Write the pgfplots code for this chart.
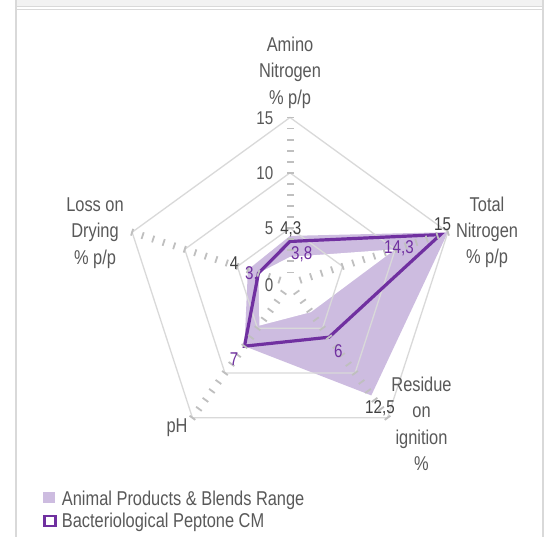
\documentclass[border=0pt]{standalone}
\usepackage{fontspec}
\setmainfont{Liberation Sans}[FakeStretch=0.82]
\usepackage{pgfplots}
\pgfplotsset{compat=1.18}
\usepgfplotslibrary{polar}
\definecolor{pep}{RGB}{112,48,160}
\definecolor{rng}{RGB}{205,188,224}
\definecolor{gridc}{RGB}{217,217,217}
\definecolor{tickc}{RGB}{191,191,191}
\definecolor{txt}{RGB}{89,89,89}
\definecolor{dlab}{RGB}{64,64,64}
\definecolor{framec}{RGB}{217,217,217}
\definecolor{strip}{RGB}{242,242,242}
\newcommand\bigf{\fontsize{20bp}{26.5bp}\selectfont}
\newcommand\smallf{\fontsize{18.5bp}{22bp}\selectfont}
\begin{document}
\begin{tikzpicture}
\path[use as bounding box] (0,0) rectangle (559bp,537bp);
\fill[white] (0,0) rectangle (559bp,537bp);
\fill[strip] (16bp,530bp) rectangle (543bp,537bp);
\draw[framec, line width=1bp] (16bp,530.3bp) -- (543bp,530.3bp);
\draw[framec, line width=1bp] (16bp,527.7bp) -- (543bp,527.7bp);
\draw[framec, line width=1.2bp] (16bp,0) -- (16bp,537bp);
\draw[framec, line width=1.2bp] (543bp,0) -- (543bp,537bp);
\begin{polaraxis}[
  at={(290bp,253.5bp)}, anchor=origin,
  scale only axis, width=332bp, height=332bp,
  xmin=0, xmax=360, ymin=0, ymax=15,
  hide axis, clip=false,
]
% range max (filled) and range min (white)
\addplot[forget plot, fill=rng, draw=none] coordinates {(90,4.3)(18,15)(306,12.5)(234,7)(162,4)} -- cycle;
\addplot[forget plot, fill=white, draw=none] coordinates {(90,2.4)(18,10)(306,3.2)(234,4.7)(162,3)} -- cycle;
% grid
\addplot[forget plot, gridc, line width=1.3bp] coordinates {(90,5)(18,5)(306,5)(234,5)(162,5)} -- cycle;
\addplot[forget plot, gridc, line width=1.3bp] coordinates {(90,10)(18,10)(306,10)(234,10)(162,10)} -- cycle;
\addplot[forget plot, gridc, line width=1.3bp] coordinates {(90,15)(18,15)(306,15)(234,15)(162,15)} -- cycle;
% ticks
\addplot[forget plot, only marks, mark=-, mark size=3.5bp, mark options={tickc, line width=1.8bp, rotate=0}]
 coordinates {(90,1)(90,2)(90,3)(90,4)(90,5)(90,6)(90,7)(90,8)(90,9)(90,10)(90,11)(90,12)(90,13)(90,14)(90,15)};
\addplot[forget plot, only marks, mark=-, mark size=3.5bp, mark options={tickc, line width=1.8bp, rotate=-72}]
 coordinates {(18,1)(18,2)(18,3)(18,4)(18,5)(18,6)(18,7)(18,8)(18,9)(18,10)(18,11)(18,12)(18,13)(18,14)(18,15)};
\addplot[forget plot, only marks, mark=-, mark size=3.5bp, mark options={tickc, line width=1.8bp, rotate=36}]
 coordinates {(306,1)(306,2)(306,3)(306,4)(306,5)(306,6)(306,7)(306,8)(306,9)(306,10)(306,11)(306,12)(306,13)(306,14)(306,15)};
\addplot[forget plot, only marks, mark=-, mark size=3.5bp, mark options={tickc, line width=1.8bp, rotate=-36}]
 coordinates {(234,1)(234,2)(234,3)(234,4)(234,5)(234,6)(234,7)(234,8)(234,9)(234,10)(234,11)(234,12)(234,13)(234,14)(234,15)};
\addplot[forget plot, only marks, mark=-, mark size=3.5bp, mark options={tickc, line width=1.8bp, rotate=72}]
 coordinates {(162,1)(162,2)(162,3)(162,4)(162,5)(162,6)(162,7)(162,8)(162,9)(162,10)(162,11)(162,12)(162,13)(162,14)(162,15)};
% peptone
\addplot[forget plot, pep, line width=3.2bp, line join=miter] coordinates {(90,3.8)(18,14.3)(306,6)(234,7)(162,3)} -- cycle;
\end{polaraxis}
% legend
\fill[rng] (43bp,33.7bp) rectangle (55bp,45.3bp);
\draw[pep, line width=2.5bp] (44.6bp,11bp) rectangle (55.4bp,20.8bp);
\node[anchor=base west, inner sep=0pt, text=txt, font=\bigf] at (61.7bp,32bp) {Animal Products \& Blends Range};
\node[anchor=base west, inner sep=0pt, text=txt, font=\bigf] at (61.7bp,9.7bp) {Bacteriological Peptone CM};
% axis titles
\begin{scope}[every node/.style={anchor=base, inner sep=0pt, text=txt, font=\bigf}]
\node at (290bp,485.5bp) {Amino};
\node at (290bp,459bp) {Nitrogen};
\node at (290bp,432.5bp) {\% p/p};
\node at (487bp,325.5bp) {Total};
\node at (487bp,299bp) {Nitrogen};
\node at (487bp,273bp) {\% p/p};
\node at (421.5bp,145.5bp) {Residue};
\node at (421.5bp,119bp) {on};
\node at (421.5bp,92.5bp) {ignition};
\node at (421.5bp,66bp) {\%};
\node at (177bp,104.3bp) {pH};
\node at (95bp,325.3bp) {Loss on};
\node at (95bp,299bp) {Drying};
\node at (95bp,272.5bp) {\% p/p};
\end{scope}
% radial tick labels
\begin{scope}[every node/.style={anchor=base east, inner sep=0pt, text=txt, font=\smallf}]
\node at (273.5bp,412bp) {15};
\node at (273.5bp,357bp) {10};
\node at (273.5bp,302bp) {5};
\node at (273.5bp,245.3bp) {0};
\end{scope}
% data labels
\begin{scope}[every node/.style={anchor=base, inner sep=0pt, font=\smallf}]
\node[text=dlab] at (290.8bp,302.3bp) {4,3};
\node[text=dlab] at (442.5bp,306.3bp) {15};
\node[text=dlab] at (380bp,123.7bp) {12,5};
\node[text=dlab] at (234bp,267bp) {4};
\node[text=pep] at (301.7bp,277bp) {3,8};
\node[text=pep] at (399bp,283bp) {14,3};
\node[text=pep] at (338.3bp,179bp) {6};
\node[text=pep] at (234bp,171bp) {7};
\node[text=pep, anchor=base west] at (245bp,257bp) {3,};
\end{scope}
\end{tikzpicture}
\end{document}
